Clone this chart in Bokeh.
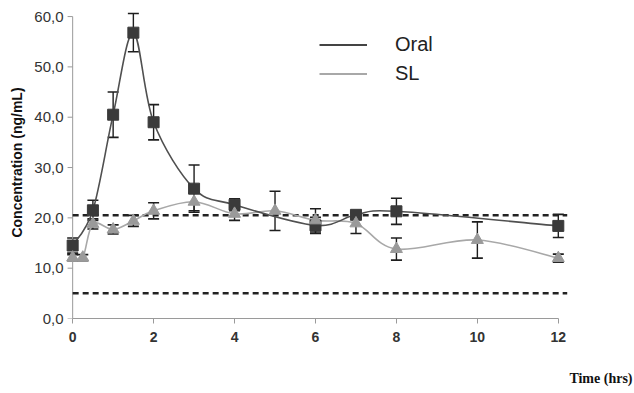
from bokeh.plotting import figure
from bokeh.models import (Range1d, FixedTicker, Whisker, TeeHead, ColumnDataSource,
                          Title, Legend, LegendItem)
from bokeh.embed import file_html
from bokeh.resources import INLINE

# ---------------- data ----------------
oral_t = [0, 0.5, 1, 1.5, 2, 3, 4, 6, 7, 8, 12]
oral_c = [14.5, 21.5, 40.5, 56.8, 39.0, 25.8, 22.6, 18.5, 20.6, 21.3, 18.4]
oral_e = [1.5, 2.0, 4.5, 3.8, 3.5, 4.7, 1.2, 1.6, 0.5, 2.6, 2.3]

sl_t = [0, 0.25, 0.5, 1, 1.5, 2, 3, 4, 5, 6, 7, 8, 10, 12]
sl_c = [12.1, 12.1, 18.8, 17.7, 19.4, 21.4, 23.2, 20.8, 21.4, 19.5, 18.9, 13.8, 15.6, 12.0]
sl_e = [0.6, 0.6, 1.0, 0.9, 1.1, 1.6, 1.8, 1.3, 3.9, 2.3, 2.0, 2.2, 3.6, 0.8]

ref_levels = [20.5, 5.0]

x_ticks = [0, 2, 4, 6, 8, 10, 12]
y_ticks = [0, 10, 20, 30, 40, 50, 60]
y_tick_labels = ["0,0", "10,0", "20,0", "30,0", "40,0", "50,0", "60,0"]

ORAL_COLOR = "#3a3a3a"
SL_COLOR = "#9a9a9a"
AXIS_COLOR = "#9a9a9a"
NAN = float("nan")


def smooth_segments(xs, ys):
    """Cardinal-spline (Excel-style smoothed line) bezier pieces through the points."""
    n = len(xs)
    out = dict(x0=[], y0=[], x1=[], y1=[], cx0=[], cy0=[], cx1=[], cy1=[])
    for i in range(n - 1):
        a = i - 1 if i > 0 else i
        d = i + 2 if i + 2 < n else i + 1
        out["x0"].append(xs[i]); out["y0"].append(ys[i])
        out["x1"].append(xs[i + 1]); out["y1"].append(ys[i + 1])
        out["cx0"].append(xs[i] + (xs[i + 1] - xs[a]) / 6.0)
        out["cy0"].append(ys[i] + (ys[i + 1] - ys[a]) / 6.0)
        out["cx1"].append(xs[i + 1] - (xs[d] - xs[i]) / 6.0)
        out["cy1"].append(ys[i + 1] - (ys[d] - ys[i]) / 6.0)
    return ColumnDataSource(out)


p = figure(width=634, height=393, output_backend="svg", toolbar_location=None,
           x_range=Range1d(-0.35, 12.4), y_range=Range1d(0, 62),
           min_border_left=58, min_border_right=60, min_border_top=6,
           min_border_bottom=75)
p.outline_line_color = None
p.xgrid.visible = False
p.ygrid.visible = False
p.background_fill_color = "white"
p.border_fill_color = "white"

# y axis line and ticks drawn at t = 0 (frame extends a little to the left of it)
tick_len = 0.125
p.segment(x0=x_ticks[0], y0=y_ticks[0], x1=x_ticks[0], y1=y_ticks[-1],
          line_color=AXIS_COLOR, line_width=1)
p.segment(x0=[x_ticks[0] - tick_len] * len(y_ticks), y0=y_ticks,
          x1=[x_ticks[0]] * len(y_ticks), y1=y_ticks,
          line_color=AXIS_COLOR, line_width=1)

# dashed reference lines
for lvl in ref_levels:
    p.segment(x0=x_ticks[0], y0=lvl, x1=x_ticks[-1] + 0.22, y1=lvl,
              line_color="#222222", line_width=2.5, line_dash="6 4")

# smoothed lines
p.bezier(x0="x0", y0="y0", x1="x1", y1="y1", cx0="cx0", cy0="cy0", cx1="cx1", cy1="cy1",
         source=smooth_segments(sl_t, sl_c), line_color="#a8a8a8", line_width=1.6)
p.bezier(x0="x0", y0="y0", x1="x1", y1="y1", cx0="cx0", cy0="cy0", cx1="cx1", cy1="cy1",
         source=smooth_segments(oral_t, oral_c), line_color="#505050", line_width=1.6)

# error bars
src_o = ColumnDataSource(dict(t=oral_t, c=oral_c,
                              lo=[c - e for c, e in zip(oral_c, oral_e)],
                              hi=[c + e for c, e in zip(oral_c, oral_e)]))
src_s = ColumnDataSource(dict(t=sl_t, c=sl_c,
                              lo=[c - e for c, e in zip(sl_c, sl_e)],
                              hi=[c + e for c, e in zip(sl_c, sl_e)]))
for src in (src_s, src_o):
    w = Whisker(base="t", upper="hi", lower="lo", source=src, dimension="height",
                line_color="#1e1e1e", line_width=1.4,
                upper_head=TeeHead(size=11, line_color="#1e1e1e", line_width=1.6),
                lower_head=TeeHead(size=11, line_color="#1e1e1e", line_width=1.6))
    p.add_layout(w)

# markers
p.scatter("t", "c", source=src_o, marker="square", size=11,
          fill_color=ORAL_COLOR, line_color=ORAL_COLOR)
p.scatter("t", "c", source=src_s, marker="triangle", size=12,
          fill_color=SL_COLOR, line_color=SL_COLOR)

# legend (line samples only)
leg_o = p.line(x=[NAN, NAN], y=[NAN, NAN], line_color="#444444", line_width=2)
leg_s = p.line(x=[NAN, NAN], y=[NAN, NAN], line_color="#a8a8a8", line_width=2)
legend = Legend(items=[LegendItem(label="Oral", renderers=[leg_o]),
                       LegendItem(label="SL", renderers=[leg_s])],
                location=(261, 233), padding=0, margin=0, spacing=6,
                glyph_width=48, glyph_height=21, label_height=21, label_standoff=28,
                label_text_font="Liberation Sans", label_text_font_size="20px",
                label_text_color="#222222",
                border_line_alpha=0, background_fill_alpha=0)
p.add_layout(legend, "center")

# x axis
p.xaxis.ticker = FixedTicker(ticks=x_ticks)
p.xaxis.bounds = (x_ticks[0], x_ticks[-1])
p.xaxis.major_label_text_font = "Liberation Sans"
p.xaxis.major_label_text_font_size = "14px"
p.xaxis.major_label_text_font_style = "bold"
p.xaxis.major_label_text_color = "#333333"
p.xaxis.major_label_standoff = 8
p.xaxis.axis_line_color = AXIS_COLOR
p.xaxis.major_tick_line_color = AXIS_COLOR
p.xaxis.major_tick_out = 5
p.xaxis.major_tick_in = 0
p.xaxis.minor_tick_line_color = None

# y axis (labels only; line and ticks drawn at t = 0 above)
p.yaxis.ticker = FixedTicker(ticks=y_ticks)
p.yaxis.major_label_overrides = {t: l for t, l in zip(y_ticks, y_tick_labels)}
p.yaxis.axis_line_color = None
p.yaxis.major_tick_line_color = None
p.yaxis.minor_tick_line_color = None
p.yaxis.major_tick_out = 0
p.yaxis.major_tick_in = 0
p.yaxis.major_label_standoff = -5
p.yaxis.major_label_text_font = "Liberation Sans"
p.yaxis.major_label_text_font_size = "15px"
p.yaxis.major_label_text_color = "#333333"
p.yaxis.axis_label = "Concentration (ng/mL)"
p.yaxis.axis_label_standoff = 6
p.yaxis.axis_label_text_font = "Liberation Sans"
p.yaxis.axis_label_text_font_size = "14px"
p.yaxis.axis_label_text_font_style = "bold"
p.yaxis.axis_label_text_color = "#111111"

p.add_layout(Title(text="Time (hrs)", align="right", offset=-58, standoff=4,
                   padding=(0, 0, 22, 0),
                   text_font="Liberation Serif", text_font_size="14px",
                   text_font_style="bold", text_color="#111111"), "below")

open("out.html", "w").write(file_html(p, INLINE))
